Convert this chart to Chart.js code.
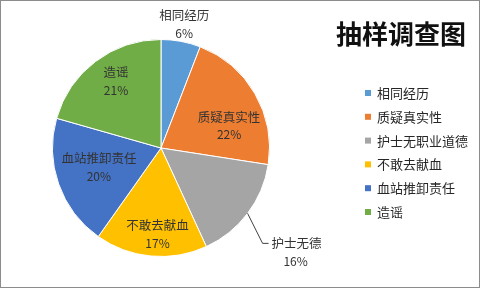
<!DOCTYPE html>
<html lang="zh">
<head>
    <meta charset="UTF-8">
    <title>抽样调查图</title>
    <script src="https://cdn.jsdelivr.net/npm/chart.js"></script>
    <style>
        body { margin: 0; background: #fff; }
        .frame {
            width: 478px;
            height: 286px;
            border: 1px solid #8c8c8c;
        }
        canvas { display: block; }
    </style>
</head>
<body>
    <div class="frame">
        <canvas id="pieChart" width="478" height="286"></canvas>
    </div>

    <script>
        // Data
        const titleText = '抽样调查图';
        const categories = ['相同经历', '质疑真实性', '护士无职业道德', '不敢去献血', '血站推卸责任', '造谣'];
        const sliceNames = ['相同经历', '质疑真实性', '护士无德', '不敢去献血', '血站推卸责任', '造谣'];
        const percents = [6, 22, 16, 17, 20, 21];
        const colors = ['#5B9BD5', '#ED7D31', '#A5A5A5', '#FFC000', '#4472C4', '#70AD47'];

        const cjk = '"Noto Sans CJK SC", "Noto Sans", sans-serif';

        // label placement per slice: [angle shift in degrees, radius factor, outside?]
        const place = [[0, 1.16, 'top'], [12, 0.66], [0, 1, 'leader'], [-3, 0.8], [2, 0.6], [3, 0.74]];

        const labelPlugin = {
            id: 'sliceLabels',
            afterDatasetsDraw(chart) {
                const ctx = chart.ctx;
                const arcs = chart.getDatasetMeta(0).data;
                ctx.save();
                ctx.textAlign = 'center';
                ctx.textBaseline = 'middle';
                arcs.forEach((arc, i) => {
                    const p = arc.getProps(['x', 'y', 'startAngle', 'endAngle', 'outerRadius'], true);
                    const mid = (p.startAngle + p.endAngle) / 2 + place[i][0] * Math.PI / 180;
                    const r = p.outerRadius * place[i][1];
                    let cx = p.x + Math.cos(mid) * r;
                    let cy = p.y + Math.sin(mid) * r;
                    ctx.fillStyle = '#333333';
                    if (place[i][2] === 'leader') {
                        const x2 = cx + 15, y2 = cy + 30;
                        ctx.strokeStyle = '#404040';
                        ctx.lineWidth = 1;
                        ctx.beginPath();
                        ctx.moveTo(cx, cy);
                        ctx.lineTo(x2, y2);
                        ctx.lineTo(x2 + 6, y2);
                        ctx.stroke();
                        ctx.font = '12.5px ' + cjk;
                        ctx.textAlign = 'left';
                        ctx.fillText(sliceNames[i], x2 + 9, y2);
                        ctx.textAlign = 'center';
                        ctx.font = '12px ' + cjk;
                        ctx.fillText(percents[i] + '%', x2 + 33, y2 + 18);
                        return;
                    }
                    ctx.font = '12.5px ' + cjk;
                    ctx.fillText(sliceNames[i], cx, cy - 9);
                    ctx.font = '12px ' + cjk;
                    ctx.fillText(percents[i] + '%', cx, cy + 9);
                });
                ctx.restore();
            },
            afterDraw(chart) {
                const ctx = chart.ctx;
                ctx.save();
                // title
                ctx.fillStyle = '#111111';
                ctx.font = 'bold 26px ' + cjk;
                ctx.textAlign = 'center';
                ctx.textBaseline = 'middle';
                ctx.fillText(titleText, 400, 33);
                // legend
                ctx.textAlign = 'left';
                ctx.font = '13px ' + cjk;
                chart.data.labels.forEach((lab, i) => {
                    const y = 92 + i * 23.8;
                    ctx.fillStyle = colors[i];
                    ctx.fillRect(364, y - 3, 6, 6);
                    ctx.fillStyle = '#262626';
                    ctx.fillText(lab, 376, y);
                });
                ctx.restore();
            }
        };

        var pieChart = new Chart(document.getElementById('pieChart'), {
            type: 'pie',
            data: {
                labels: categories,
                datasets: [{
                    data: percents,
                    backgroundColor: colors,
                    borderColor: '#ffffff',
                    borderWidth: 1
                }]
            },
            options: {
                responsive: false,
                animation: false,
                layout: { padding: { left: 51, right: 209, top: 38, bottom: 30 } },
                plugins: {
                    legend: { display: false },
                    title: { display: false },
                    tooltip: { enabled: false }
                }
            },
            plugins: [labelPlugin]
        });
    </script>
</body>
</html>
